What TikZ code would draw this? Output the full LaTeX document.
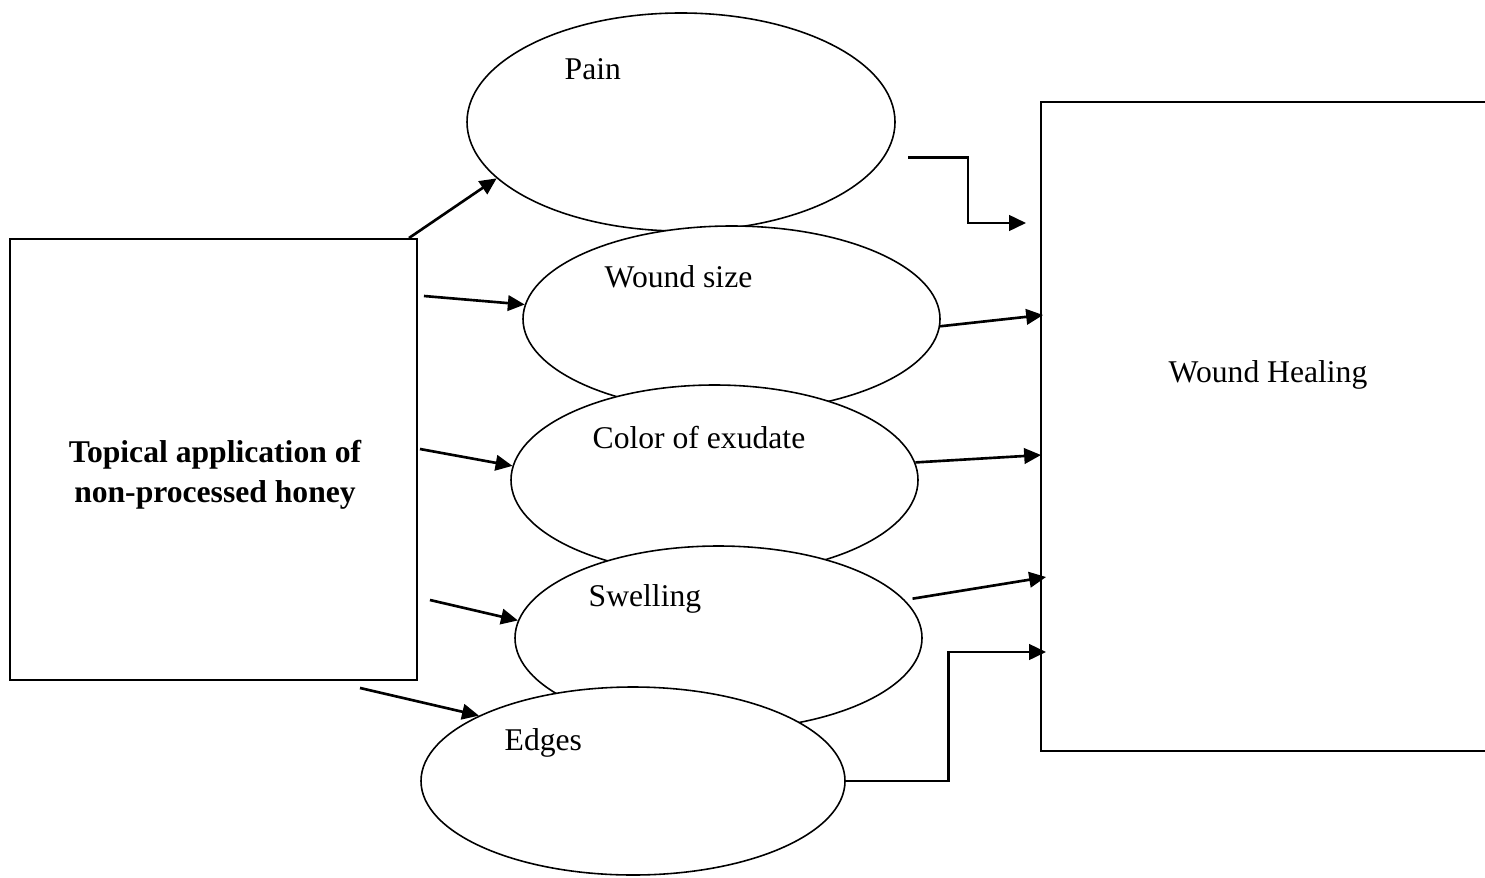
\documentclass[tikz,border=0pt]{standalone}
\usepackage{fontspec}
\setmainfont{Liberation Serif}
\usetikzlibrary{arrows.meta,shapes.geometric}

\begin{document}
\begin{tikzpicture}[oval/.style = {shape=ellipse, draw=black, fill=white, line width=0.45pt, inner sep=0},
  box/.style={draw=black, line width=0.55pt, inner sep=0},
  lbl/.style={font=\fontsize{9}{11.3}\selectfont, anchor=base west, inner sep=0},
  arr/.style={-{Triangle[length=4.8pt,width=4.4pt]}, line width=0.75pt}]
        \useasboundingbox (0,0) rectangle (14.85,8.77);
        \node[box, minimum width=4.07cm, minimum height=4.41cm] (topic) at (2.135,4.175) {};
        \node[lbl, anchor=center, align=center, font=\fontsize{9}{11.3}\selectfont\bfseries] (topictext) at (2.15,4.02) {Topical application of\\non-processed honey};
        \node[box, minimum width=5cm, minimum height=6.49cm] (heal) at (12.91,4.505) {};
        \node[lbl] (healtext) at (11.68,4.95) {Wound Healing};
        \node[oval, minimum width=4.28cm, minimum height=2.18cm] (pain) at (6.81,7.55) {};
        \node[lbl] (paintext) at (5.64,7.97) {Pain};
        \node[oval, minimum width=4.17cm, minimum height=1.86cm] (size) at (7.315,5.58) {};
        \node[lbl] (sizetext) at (6.04,5.90) {Wound size};
        \node[oval, minimum width=4.07cm, minimum height=1.90cm] (color) at (7.145,3.97) {};
        \node[lbl] (colortext) at (5.92,4.29) {Color of exudate};
        \node[oval, minimum width=4.07cm, minimum height=1.84cm] (swell) at (7.185,2.39) {};
        \node[lbl] (swelltext) at (5.88,2.71) {Swelling};
        \node[oval, minimum width=4.24cm, minimum height=1.88cm] (edges) at (6.33,0.96) {};
        \node[lbl] (edgestext) at (5.04,1.27) {Edges};
        % from the honey box
        \draw[arr] ([xshift=-0.9mm]topic.north east) -- (pain.197);
        \draw[arr] ([xshift=0.6mm,yshift=16.35mm]topic.east) -- (size.176);
        \draw[arr] ([xshift=0.2mm,yshift=1.05mm]topic.east) -- (color.176);
        \draw[arr] ([xshift=1.2mm,yshift=-14.05mm]topic.east) -- (swell.175);
        \draw[arr] ([xshift=14.65mm,yshift=-0.7mm]topic.south) -- (edges.157);
        % into wound healing
        \draw[arr] ([xshift=2.4mm]pain.350) -- ++(0.6,0) |- ([xshift=-1.4mm,yshift=20.35mm]heal.west);
        \draw[arr] (size.358) -- ([xshift=0.3mm,yshift=11.15mm]heal.west);
        \draw[arr] (color.5) -- ([xshift=0.1mm,yshift=-2.85mm]heal.west);
        \draw[arr] ([xshift=0.9mm]swell.12) -- ([xshift=0.6mm,yshift=-15.05mm]heal.west);
        \draw[arr] (edges.east) -- ++(1.03,0) |- ([xshift=0.6mm,yshift=-22.55mm]heal.west);
    \end{tikzpicture}
\end{document}
